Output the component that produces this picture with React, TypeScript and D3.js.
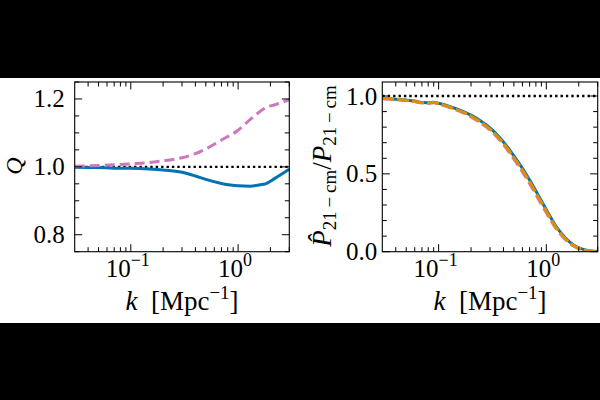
import React, { useRef, useEffect } from 'react';
import * as d3 from 'd3';

// wavenumbers and ratios
const kLeft = [0.03, 0.05, 0.07, 0.1, 0.15, 0.2, 0.3, 0.4, 0.5, 0.7, 1.0, 1.3, 1.6, 1.8, 2.2, 3.0];
const qBlue = [0.999, 0.998, 0.996, 0.996, 0.994, 0.991, 0.984, 0.973, 0.963, 0.951, 0.944, 0.943, 0.947, 0.95, 0.966, 0.993];
const qPink = [1.002, 1.004, 1.006, 1.009, 1.013, 1.018, 1.027, 1.039, 1.053, 1.079, 1.108, 1.14, 1.163, 1.174, 1.183, 1.198];

const kRight = [0.03, 0.04, 0.05, 0.06, 0.07, 0.08, 0.09, 0.1, 0.13, 0.17, 0.2, 0.25, 0.3, 0.4, 0.5, 0.6, 0.7, 0.8, 1.0, 1.2, 1.5, 1.8, 2.2, 2.6, 3.0];
const pBlue = [0.985, 0.979, 0.974, 0.968, 0.958, 0.957, 0.96, 0.953, 0.93, 0.9, 0.877, 0.836, 0.796, 0.705, 0.615, 0.535, 0.46, 0.39, 0.27, 0.175, 0.09, 0.042, 0.015, 0.005, 0.002];
const pOrange = [0.984, 0.978, 0.972, 0.965, 0.956, 0.955, 0.958, 0.951, 0.926, 0.895, 0.871, 0.829, 0.788, 0.696, 0.605, 0.524, 0.449, 0.379, 0.261, 0.168, 0.085, 0.039, 0.013, 0.004, 0.001];
const pPink = [0.983, 0.977, 0.971, 0.964, 0.955, 0.954, 0.957, 0.949, 0.923, 0.891, 0.866, 0.823, 0.781, 0.687, 0.594, 0.512, 0.437, 0.367, 0.25, 0.16, 0.079, 0.035, 0.011, 0.003, 0.001];

const xMajor = [0.1, 1];
const xMinor = [0.04, 0.05, 0.06, 0.07, 0.08, 0.09, 0.2, 0.3, 0.4, 0.5, 0.6, 0.7, 0.8, 0.9, 2, 3];
const xTickLabels = ['10', '10'];
const xTickExp = ['\u22121', '0'];
const leftYMajor = [0.8, 1.0, 1.2];
const leftYMinor = [0.75, 0.85, 0.9, 0.95, 1.05, 1.1, 1.15, 1.25];
const rightYMajor = [0, 0.5, 1.0];
const rightYMinor = [0.1, 0.2, 0.3, 0.4, 0.6, 0.7, 0.8, 0.9];

const FONT = '"Liberation Serif", "DejaVu Serif", serif';

function App() {
  const ref = useRef<SVGSVGElement>(null);

  useEffect(() => {
    const svg = d3.select(ref.current);
    svg.selectAll('*').remove();

    // letterbox: black page, white figure strip
    svg.append('rect').attr('width', 600).attr('height', 400).attr('fill', '#000');
    svg.append('rect').attr('y', 78).attr('width', 600).attr('height', 245).attr('fill', '#fff');

    const top = 82, bottom = 251.7;

    const drawPanel = (opts: any) => {
      const x = d3.scaleLog().domain([0.03, 3]).range([opts.x0, opts.x1]);
      const y = d3.scaleLinear().domain(opts.ydom).range([bottom, top]);
      const g = svg.append('g');

      const clipId = 'clip' + opts.id;
      g.append('clipPath').attr('id', clipId)
        .append('rect').attr('x', opts.x0).attr('y', top).attr('width', opts.x1 - opts.x0).attr('height', bottom - top);
      const plot = g.append('g').attr('clip-path', `url(#${clipId})`);

      // reference line at 1
      plot.append('line')
        .attr('x1', opts.x0).attr('x2', opts.x1)
        .attr('y1', y(1)).attr('y2', y(1))
        .attr('stroke', '#000').attr('stroke-width', 2.4)
        .attr('stroke-dasharray', '2.4,3');

      opts.series.forEach((s: any) => {
        const line = d3.line<number>()
          .x((d, i) => x(s.k[i]))
          .y(d => y(d))
          .curve(d3.curveMonotoneX);
        plot.append('path')
          .attr('d', line(s.v))
          .attr('fill', 'none')
          .attr('stroke', s.color)
          .attr('stroke-width', 3)
          .attr('stroke-dasharray', s.dash || null);
      });

      // ticks, inward on all four sides
      const tick = (x1: number, y1: number, x2: number, y2: number) =>
        g.append('line').attr('x1', x1).attr('y1', y1).attr('x2', x2).attr('y2', y2)
          .attr('stroke', '#000').attr('stroke-width', 1);
      xMajor.forEach(k => { tick(x(k), bottom, x(k), bottom - 7.5); tick(x(k), top, x(k), top + 7.5); });
      xMinor.forEach(k => { tick(x(k), bottom, x(k), bottom - 4.5); tick(x(k), top, x(k), top + 4.5); });
      opts.yMajor.forEach((v: number) => { tick(opts.x0, y(v), opts.x0 + 7.5, y(v)); tick(opts.x1, y(v), opts.x1 - 7.5, y(v)); });
      opts.yMinor.forEach((v: number) => { tick(opts.x0, y(v), opts.x0 + 4.5, y(v)); tick(opts.x1, y(v), opts.x1 - 4.5, y(v)); });

      g.append('rect')
        .attr('x', opts.x0).attr('y', top)
        .attr('width', opts.x1 - opts.x0).attr('height', bottom - top)
        .attr('fill', 'none').attr('stroke', '#000').attr('stroke-width', 1.1);

      // y tick labels
      opts.yMajor.forEach((v: number) => {
        g.append('text')
          .attr('x', opts.x0 - opts.ypad).attr('y', y(v) + 8.5)
          .attr('text-anchor', 'end')
          .attr('font-family', FONT).attr('font-size', 25)
          .text(v.toFixed(1));
      });

      // x tick labels 10^n
      xMajor.forEach((k, i) => {
        const t = g.append('text')
          .attr('x', x(k) - 3).attr('y', 277)
          .attr('text-anchor', 'middle')
          .attr('font-family', FONT).attr('font-size', 25);
        t.append('tspan').text(xTickLabels[i]);
        t.append('tspan').attr('dy', -11).attr('font-size', 18).text(xTickExp[i]);
      });

      // x axis label
      const xl = g.append('text')
        .attr('x', (opts.x0 + opts.x1) / 2).attr('y', 310)
        .attr('text-anchor', 'middle')
        .attr('font-family', FONT).attr('font-size', 27);
      xl.append('tspan').attr('font-style', 'italic').text('k');
      xl.append('tspan').text('\u2002[Mpc');
      xl.append('tspan').attr('dy', -11).attr('font-size', 19).text('\u22121');
      xl.append('tspan').attr('dy', 11).text(']');
    };

    drawPanel({
      id: 'L', x0: 74.7, x1: 289.3, ydom: [0.75, 1.25], ypad: 10,
      yMajor: leftYMajor, yMinor: leftYMinor,
      series: [
        { k: kLeft, v: qBlue, color: '#0173b2' },
        { k: kLeft, v: qPink, color: '#cc78bc', dash: '10,5' },
      ],
    });

    drawPanel({
      id: 'R', x0: 382.3, x1: 597.7, ydom: [0, 1.09], ypad: 5,
      yMajor: rightYMajor, yMinor: rightYMinor,
      series: [
        { k: kRight, v: pBlue, color: '#0173b2' },
        { k: kRight, v: pPink, color: '#cc78bc', dash: '10,5' },
        { k: kRight, v: pOrange, color: '#de8f05', dash: '12,3' },
      ],
    });

    // y axis labels, rotated
    svg.append('text')
      .attr('transform', 'translate(22,166) rotate(-90)')
      .attr('text-anchor', 'middle')
      .attr('font-family', FONT).attr('font-size', 24).attr('font-style', 'italic')
      .text('Q');

    const yl = svg.append('text')
      .attr('transform', 'translate(331,166) rotate(-90)')
      .attr('text-anchor', 'middle')
      .attr('font-family', FONT).attr('font-size', 27);
    yl.append('tspan').attr('font-style', 'italic').text('P\u0302');
    yl.append('tspan').attr('dy', 5).attr('font-size', 19).text('21\u2009\u2212\u2009cm');
    yl.append('tspan').attr('dy', -5).text('/');
    yl.append('tspan').attr('font-style', 'italic').text('P');
    yl.append('tspan').attr('dy', 5).attr('font-size', 19).text('21\u2009\u2212\u2009cm');
  }, []);

  return (
    <svg ref={ref} width={600} height={400} style={{ position: 'absolute', left: 0, top: 0 }} />
  );
}

export default App;
